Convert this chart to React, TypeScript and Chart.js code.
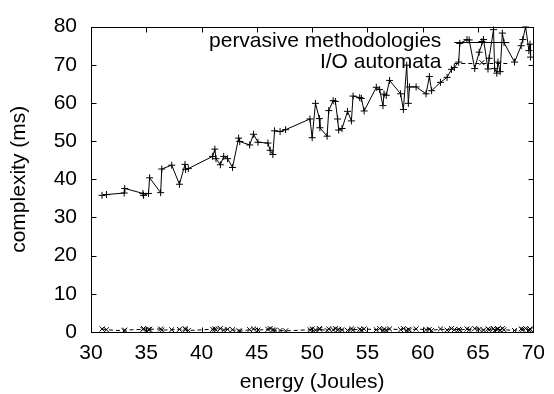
import React, { useEffect, useRef } from "react";
import { Chart, registerables } from "chart.js";

Chart.register(...registerables);

const energy = [
  31.0, 31.4, 33.0, 33.05, 34.7, 34.75, 35.2, 35.3, 36.3, 36.4,
  37.3, 38.0, 38.5, 38.55, 38.8, 41.0, 41.2, 41.3, 41.7, 42.0,
  42.35, 42.8, 43.35, 43.45, 44.35, 44.7, 45.1, 46.0, 46.2, 46.45,
  46.6, 47.1, 47.6, 49.8, 50.0, 50.3, 50.65, 50.7, 51.35, 51.5,
  51.9, 52.1, 52.3, 52.4, 52.7, 53.2, 53.55, 53.7, 54.3, 54.45,
  54.7, 55.8, 56.1, 56.4, 56.5, 56.7, 57.0, 58.0, 58.25, 58.55,
  58.7, 58.8, 59.4, 60.3, 60.6, 60.8, 61.6, 62.2, 62.6, 62.85,
  63.25, 63.35, 64.0, 64.2, 64.7, 65.1, 65.5, 65.9, 66.0, 66.4,
  66.5, 66.7, 66.8, 67.0, 67.2, 67.35, 68.3, 68.9, 69.05, 69.3,
  69.6, 69.7, 69.75,
];

const pervasive = [
  35.8, 36.0, 36.4, 37.6, 36.3, 35.8, 36.3, 40.4, 36.5, 42.7,
  43.7, 38.7, 43.9, 42.6, 42.8, 46.0, 47.9, 45.4, 43.8, 46.0,
  45.4, 43.1, 50.8, 49.9, 49.0, 51.8, 49.7, 49.5, 47.6, 46.5,
  52.7, 52.5, 53.0, 55.8, 50.9, 59.9, 55.9, 53.5, 51.3, 58.0,
  60.6, 60.4, 55.8, 52.9, 53.3, 57.8, 55.3, 61.8, 61.4, 61.2,
  57.9, 64.1, 63.5, 59.3, 62.3, 62.0, 65.9, 62.4, 58.3, 69.9,
  59.9, 64.2, 64.2, 62.4, 66.9, 63.2, 65.4, 66.7, 68.8, 69.3,
  70.7, 75.6, 76.6, 76.5, 69.0, 73.3, 76.6, 68.9, 71.7, 79.2,
  69.0, 67.8, 70.7, 68.2, 78.3, 75.8, 70.7, 75.0, 76.6, 80.0,
  73.7, 75.4, 72.0,
];

const ioAutomata = [
  0.8, 0.6, 0.3, 0.5, 0.7, 0.9, 0.6, 0.7, 0.8, 0.5,
  0.6, 0.7, 0.9, 0.6, 0.4, 0.7, 0.8, 0.6, 0.9, 0.5,
  0.7, 0.6, 0.3, 0.2, 0.6, 0.8, 0.5, 0.7, 0.9, 0.6,
  0.5, 0.4, 0.3, 0.6, 0.8, 0.5, 0.9, 0.7, 0.4, 0.8,
  0.6, 0.9, 0.5, 0.7, 0.6, 0.4, 0.8, 0.6, 0.7, 0.5,
  0.8, 0.6, 0.9, 0.4, 0.7, 0.5, 0.8, 0.6, 0.9, 0.4,
  0.7, 0.5, 0.8, 0.6, 0.7, 0.4, 0.8, 0.5, 0.9, 0.6,
  0.7, 0.5, 0.8, 0.6, 0.9, 0.7, 0.5, 0.8, 0.6, 0.9,
  0.4, 0.7, 0.8, 0.5, 0.9, 0.6, 0.4, 0.8, 0.7, 0.9,
  0.5, 0.8, 0.6,
];

const xTicks = [30, 35, 40, 45, 50, 55, 60, 65, 70];
const yTicks = [0, 10, 20, 30, 40, 50, 60, 70, 80];
const seriesLabels = ["pervasive methodologies", "I/O automata"];
const xTitle = "energy (Joules)";
const yTitle = "complexity (ms)";

const FONT_FAMILY = '"Liberation Sans", Arial, Helvetica, sans-serif';
const FONT_SIZE = 21;
const font = { family: FONT_FAMILY, size: FONT_SIZE };

const framePlugin = {
  id: "gnuplotFrame",
  afterDatasetsDraw(chart: any) {
    const { ctx, chartArea: a, scales } = chart;
    const L = Math.round(a.left) + 0.5;
    const R = Math.round(a.right) + 0.5;
    const T = Math.round(a.top) + 0.5;
    const B = Math.round(a.bottom) + 0.5;
    const tl = 5;
    ctx.save();
    ctx.strokeStyle = "#000";
    ctx.lineWidth = 1;
    ctx.setLineDash([]);
    ctx.strokeRect(L, T, R - L, B - T);
    ctx.beginPath();
    for (const v of xTicks) {
      const px = Math.round(scales.x.getPixelForValue(v)) + 0.5;
      ctx.moveTo(px, B);
      ctx.lineTo(px, B - tl);
      ctx.moveTo(px, T);
      ctx.lineTo(px, T + tl);
    }
    for (const v of yTicks) {
      const py = Math.round(scales.y.getPixelForValue(v)) + 0.5;
      ctx.moveTo(L, py);
      ctx.lineTo(L + tl, py);
      ctx.moveTo(R, py);
      ctx.lineTo(R - tl, py);
    }
    ctx.stroke();

    // legend (gnuplot style key, top right)
    ctx.font = `${FONT_SIZE}px ${FONT_FAMILY}`;
    ctx.fillStyle = "#000";
    ctx.textAlign = "right";
    ctx.textBaseline = "middle";
    const textRight = a.right - 92;
    const lineL = a.right - 79;
    const lineR = a.right - 24;
    const rows = [a.top + 15, a.top + 36];
    ctx.fillText(seriesLabels[0], textRight, rows[0]);
    ctx.fillText(seriesLabels[1], textRight, rows[1]);
    const mid = (lineL + lineR) / 2;
    // solid sample
    ctx.beginPath();
    ctx.moveTo(lineL, Math.round(rows[0]) + 0.5);
    ctx.lineTo(lineR, Math.round(rows[0]) + 0.5);
    ctx.moveTo(mid - 3.5, rows[0]);
    ctx.lineTo(mid + 3.5, rows[0]);
    ctx.moveTo(mid, rows[0] - 3.5);
    ctx.lineTo(mid, rows[0] + 3.5);
    ctx.stroke();
    // dashed sample
    ctx.beginPath();
    ctx.setLineDash([4, 3]);
    ctx.moveTo(lineL, Math.round(rows[1]) + 0.5);
    ctx.lineTo(lineR, Math.round(rows[1]) + 0.5);
    ctx.stroke();
    ctx.setLineDash([]);
    ctx.beginPath();
    ctx.moveTo(mid - 2.5, rows[1] - 2.5);
    ctx.lineTo(mid + 2.5, rows[1] + 2.5);
    ctx.moveTo(mid - 2.5, rows[1] + 2.5);
    ctx.lineTo(mid + 2.5, rows[1] - 2.5);
    ctx.stroke();
    ctx.restore();
  },
};

export default function App() {
  const ref = useRef<HTMLCanvasElement | null>(null);

  useEffect(() => {
    if (!ref.current) return;
    const chart = new Chart(ref.current, {
      type: "line",
      data: {
        datasets: [
          {
            label: seriesLabels[0],
            data: energy.map((x, i) => ({ x, y: pervasive[i] })),
            borderColor: "#000",
            borderWidth: 1,
            pointStyle: "cross",
            pointRadius: 3.5,
            pointBorderColor: "#000",
            pointBorderWidth: 1,
            pointBackgroundColor: "#000",
            fill: false,
            tension: 0,
          },
          {
            label: seriesLabels[1],
            data: energy.map((x, i) => ({ x, y: ioAutomata[i] })),
            borderColor: "#000",
            borderWidth: 1,
            borderDash: [4, 3],
            pointStyle: "crossRot",
            pointRadius: 3.5,
            pointBorderColor: "#000",
            pointBorderWidth: 1,
            fill: false,
            tension: 0,
          },
        ],
      },
      options: {
        responsive: false,
        animation: false,
        events: [],
        layout: { padding: { left: 0, right: 17, top: 17, bottom: 0 } },
        plugins: {
          legend: { display: false },
          tooltip: { enabled: false },
        },
        scales: {
          x: {
            type: "linear",
            min: 30,
            max: 70,
            afterBuildTicks: (s: any) => {
              s.ticks = xTicks.map((v) => ({ value: v }));
            },
            afterFit: (s: any) => {
              s.height = 62;
            },
            ticks: {
              color: "#000",
              font,
              padding: 9,
              maxRotation: 0,
              autoSkip: false,
            },
            grid: { display: false, drawTicks: false },
            border: { display: false },
            title: {
              display: true,
              text: xTitle,
              color: "#000",
              font,
              padding: { top: 0, bottom: -1 },
            },
          },
          y: {
            type: "linear",
            min: 0,
            max: 80,
            afterBuildTicks: (s: any) => {
              s.ticks = yTicks.map((v) => ({ value: v }));
            },
            afterFit: (s: any) => {
              s.width = 91;
            },
            ticks: {
              color: "#000",
              font,
              padding: 14,
              autoSkip: false,
            },
            grid: { display: false, drawTicks: false },
            border: { display: false },
            title: {
              display: true,
              text: yTitle,
              color: "#000",
              font,
              padding: { top: 7, bottom: 0 },
            },
          },
        },
      },
      plugins: [framePlugin],
    } as any);
    return () => chart.destroy();
  }, []);

  return (
    <div style={{ position: "absolute", left: 0, top: 0, width: 554, height: 394, background: "#fff" }}>
      <canvas ref={ref} width={554} height={394} style={{ display: "block" }} />
    </div>
  );
}
